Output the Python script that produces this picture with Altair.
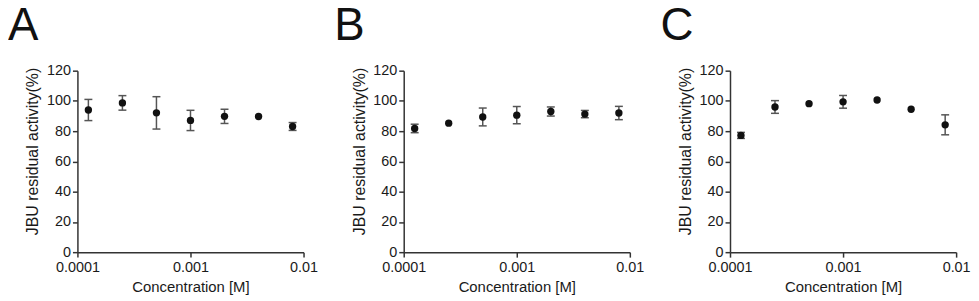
import altair as alt
import pandas as pd

conc = [0.000125, 0.00025, 0.0005, 0.001, 0.002, 0.004, 0.008]

a_mean = [94.0, 98.7, 92.1, 87.1, 89.8, 89.7, 83.1]
a_err = [7.0, 4.8, 10.7, 6.7, 4.7, 0.0, 2.6]

b_mean = [81.8, 85.3, 89.4, 90.6, 93.0, 91.3, 92.0]
b_err = [2.8, 0.0, 5.9, 5.7, 3.0, 2.4, 4.4]

c_mean = [77.2, 96.0, 98.2, 99.4, 100.6, 94.5, 84.2]
c_err = [2.0, 4.2, 0.0, 4.2, 0.0, 0.0, 6.6]

letters = ["A", "B", "C"]
x_ticks = [0.0001, 0.001, 0.01]
y_ticks = [0, 20, 40, 60, 80, 100, 120]

FONT = "Liberation Sans"
INK = "#111111"
AXC = "#333333"


def panel(letter, mean, err):
    df = pd.DataFrame({"conc": conc, "mean": mean, "err": err})
    df["lo"] = df["mean"] - df["err"]
    df["hi"] = df["mean"] + df["err"]
    dfe = df[df["err"] > 0]

    xs = alt.Scale(type="log", domain=[0.0001, 0.01])
    ys = alt.Scale(domain=[0, 120])
    xa = alt.Axis(values=x_ticks, format="~g", title="Concentration [M]",
                  labelFlush=False, labelPadding=3, titleY=35, titleBaseline="middle")
    ya = alt.Axis(values=y_ticks, title="JBU residual activity(%)",
                  titleX=-45, titleY=81, titleAngle=-90, titleAlign="center",
                  titleBaseline="middle", titleFontSize=16)

    def X():
        return alt.X("conc:Q", scale=xs, axis=xa)

    def Y(field):
        return alt.Y(field, type="quantitative", scale=ys, axis=ya)

    rule = alt.Chart(dfe).mark_rule(color="#555555", strokeWidth=1.5).encode(
        x=X(), y=Y("lo"), y2="hi")
    cap_lo = alt.Chart(dfe).mark_tick(orient="horizontal", size=8, thickness=1.5,
                                      color="#555555", opacity=1).encode(x=X(), y=Y("lo"))
    cap_hi = alt.Chart(dfe).mark_tick(orient="horizontal", size=8, thickness=1.5,
                                      color="#555555", opacity=1).encode(x=X(), y=Y("hi"))
    pts = alt.Chart(df).mark_circle(size=55, color=INK, opacity=1).encode(x=X(), y=Y("mean"))
    lab = alt.Chart(pd.DataFrame({"t": [letter]})).mark_text(
        align="left", baseline="top", fontSize=46, font=FONT, color=INK
    ).encode(text="t:N", x=alt.value(-70), y=alt.value(-67))

    return alt.layer(rule, cap_lo, cap_hi, pts, lab).properties(width=228, height=183)


chart = alt.hconcat(
    panel(letters[0], a_mean, a_err),
    panel(letters[1], b_mean, b_err),
    panel(letters[2], c_mean, c_err),
    spacing=16,
).properties(
    padding={"top": -6, "left": 0, "right": 0, "bottom": 0}
).configure_view(stroke=None).configure_axis(
    grid=False,
    domainColor=AXC,
    domainWidth=1.5,
    tickColor=AXC,
    tickWidth=1.5,
    tickSize=5,
    labelFont=FONT,
    labelFontSize=14.5,
    labelColor="#1a1a1a",
    labelPadding=2,
    titleFont=FONT,
    titleFontSize=15,
    titleFontWeight="normal",
    titleColor="#1a1a1a",
)

chart.save("out.html", embed_options={"renderer": "svg", "actions": False})
